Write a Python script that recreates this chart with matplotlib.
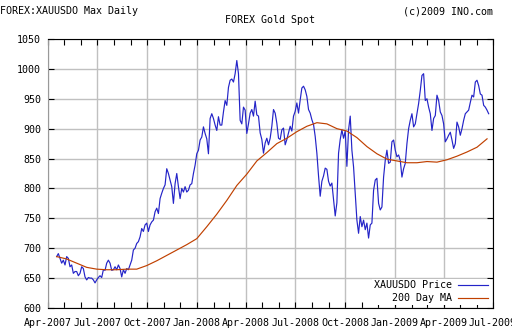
import matplotlib
matplotlib.use("Agg")
import matplotlib.pyplot as plt
import matplotlib.dates as mdates
import pandas as pd

# gold spot close (roughly every 3 days)
price = [
    686, 691, 683, 675, 680, 672, 686, 683, 669, 672,
    658, 661, 661, 654, 658, 669, 666, 652, 647, 651,
    650, 650, 647, 642, 647, 651, 654, 651, 664, 663,
    675, 680, 675, 663, 664, 669, 664, 672, 666, 652,
    664, 658, 666, 664, 672, 680, 697, 700, 708, 711,
    719, 733, 728, 739, 742, 728, 739, 744, 747,
    761, 767, 758, 783, 792, 800, 806, 833, 825, 814,
    803, 775, 808, 825, 803, 783, 800, 794, 803, 794,
    797, 806, 808, 825, 839, 858, 864, 881, 886, 903,
    892, 883, 858, 917, 925, 917, 906, 897, 920, 906,
    906, 928, 947, 939, 969, 981, 983, 978, 992, 1014,
    992, 914, 908, 936, 931, 892, 908,
    926, 932, 921, 946, 923, 921, 893, 882, 859, 876,
    884, 873, 884, 904, 932, 926, 909, 884, 882, 898,
    901, 873, 882, 893, 904, 896, 921, 929, 943, 926,
    948, 968, 971, 965, 954, 932, 926, 915, 907, 887,
    859, 821, 787, 812, 821, 834, 832, 812, 804, 809,
    782, 754, 776, 859, 882, 898, 884, 896, 837, 898,
    921,
    864, 836, 792, 747, 725, 753, 736, 747, 731, 742,
    717, 739, 742, 797, 814, 817, 775, 764, 769, 819,
    847, 864, 842, 844, 878, 881, 864, 853, 856, 847,
    819, 833, 842, 875, 900, 914, 925, 903, 908, 925,
    942, 964, 989, 992, 947, 950, 936, 925, 897, 917,
    922, 956, 947, 928, 922, 908, 878, 883, 889,
    894, 881, 867, 875, 911, 903, 889, 900, 914, 925,
    928, 931, 944, 956, 953, 978, 981, 972, 958, 956,
    939, 936, 931, 925,
]
price_start, price_end = "2007-04-17", "2009-06-23"

# 200 day moving average
ma200 = [
    686, 682, 675, 668, 665, 664, 664, 665, 665, 671,
    679, 688, 697, 706, 716, 736, 757, 780, 805, 824,
    846, 860, 875, 884, 895, 904, 910, 908, 900, 896,
    885, 870, 858, 849, 846, 843, 843, 845, 844, 848,
    854, 861, 869, 883,
]
ma_start, ma_end = "2007-04-17", "2009-06-20"

y_ticks = list(range(600, 1051, 50))

price_dates = pd.date_range(price_start, price_end, periods=len(price))
ma_dates = pd.date_range(ma_start, ma_end, periods=len(ma200))

plt.rcParams["font.family"] = "DejaVu Sans Mono"
fs = 7.2

fig = plt.figure(figsize=(5.12, 3.36), dpi=100)
ax = fig.add_axes([48 / 512, 28 / 336, 445 / 512, 269 / 336])

ax.plot(price_dates, price, color="#2424c8", lw=0.85, label="XAUUSDO Price")
ax.plot(ma_dates, ma200, color="#c04000", lw=0.85, label="200 Day MA")

ax.set_xlim(pd.Timestamp("2007-04-01"), pd.Timestamp("2009-07-01"))
ax.set_ylim(600, 1050)
ax.set_yticks(y_ticks)
ax.xaxis.set_major_locator(mdates.MonthLocator(bymonth=[1, 4, 7, 10]))
ax.xaxis.set_major_formatter(mdates.DateFormatter("%b-%Y"))
ax.xaxis.set_minor_locator(mdates.MonthLocator())

ax.grid(True, which="major", color="#c0c0c0", lw=1.0)
ax.set_axisbelow(True)
ax.tick_params(which="both", direction="in", top=True, right=True,
               length=4, width=0.8, color="black", labelsize=fs)
ax.tick_params(axis="x", pad=7.5)
ax.tick_params(axis="y", pad=5)

for side in ["top", "right", "bottom"]:
    ax.spines[side].set_color("black")
    ax.spines[side].set_linewidth(0.8)
ax.spines["left"].set_color("#999999")

leg = ax.legend(loc="lower right", markerfirst=False, fontsize=fs,
                frameon=True, fancybox=False, framealpha=1,
                facecolor="white", edgecolor="none", handlelength=3,
                handletextpad=0.6, labelspacing=0.25, borderpad=0.2,
                borderaxespad=0.3)

fig.text(0, 1 - 11 / 336, "FOREX:XAUUSDO Max Daily", fontsize=fs,
         ha="left", va="center")
fig.text(493 / 512, 1 - 11 / 336, "(c)2009 INO.com", fontsize=fs,
         ha="right", va="center")
fig.text(270 / 512, 1 - 20 / 336, "FOREX Gold Spot", fontsize=fs,
         ha="center", va="center")

fig.savefig("out.png", dpi=100)
